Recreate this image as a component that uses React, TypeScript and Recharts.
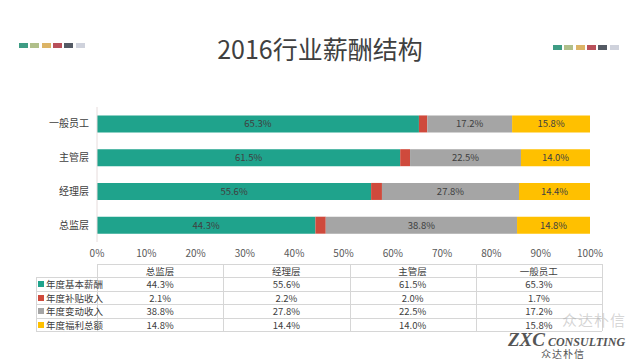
import React from 'react';
import { BarChart, Bar, XAxis, YAxis, LabelList } from 'recharts';

const categories = ['总监层', '经理层', '主管层', '一般员工'];
const seriesNames = ['年度基本薪酬', '年度补贴收入', '年度变动收入', '年度福利总额'];
const basePay = [44.3, 55.6, 61.5, 65.3];
const allowance = [2.1, 2.2, 2.0, 1.7];
const variablePay = [38.8, 27.8, 22.5, 17.2];
const benefits = [14.8, 14.4, 14.0, 15.8];
const xTicks = [0, 10, 20, 30, 40, 50, 60, 70, 80, 90, 100];
const colors = ['#1fa38c', '#cf4a3c', '#a5a5a5', '#ffc000'];
const decoColors = ['#3e9c84', '#b0bf8a', '#dcb466', '#b9505a', '#545a64', '#cfd2dc'];

const seriesValues = [basePay, allowance, variablePay, benefits];
const keys = ['s0', 's1', 's2', 's3'];

const data = categories.map((name, i) => {
  const row: any = { name };
  keys.forEach((k, j) => (row[k] = seriesValues[j][i]));
  return row;
});

const fmt = (v: any) => `${Number(v).toFixed(1)}%`;
const font = '"Noto Sans CJK SC", "Noto Sans", sans-serif';

const tableLeft = 97;
const colW = 126.25;
const headerTop = 264;
const rowH = 13.4;
const lineColor = '#d6d6d6';

function Deco({ left, top }: { left: number; top: number }) {
  return (
    <>
      {decoColors.map((c, i) => (
        <div
          key={i}
          style={{ position: 'absolute', left: left + i * 11.3, top, width: 9, height: 5, background: c }}
        />
      ))}
    </>
  );
}

const cellText = { fontSize: 9.5, lineHeight: '11px', color: '#404040' } as const;

export default function App() {
  return (
    <div style={{ position: 'absolute', left: 0, top: 0, width: 640, height: 360, background: '#fff', fontFamily: font, overflow: 'hidden' }}>
      <Deco left={19} top={43} />
      <Deco left={553} top={45} />
      <div style={{ position: 'absolute', left: 0, width: 640, top: 32, textAlign: 'center', fontSize: 25, color: '#404040', fontWeight: 400, lineHeight: '32px' }}>
        2016行业薪酬结构
      </div>
      <div style={{ position: 'absolute', left: 0, top: 0 }}>
        <BarChart
          width={640}
          height={360}
          data={data}
          layout="vertical"
          margin={{ top: 107, right: 50, bottom: 88, left: 29 }}
          barCategoryGap="25%"
        >
          <XAxis
            type="number"
            domain={[0, 100]}
            ticks={xTicks}
            tickFormatter={(v) => `${v}%`}
            axisLine={false}
            tickLine={false}
            interval={0}
            tick={{ fontSize: 10, fill: '#595959', fontFamily: font }}
            height={30}
          />
          <YAxis
            type="category"
            dataKey="name"
            reversed
            width={68}
            axisLine={{ stroke: '#e6dcdc' }}
            tickLine={false}
            tick={{ fontSize: 10, fill: '#404040', fontFamily: font }}
          />
          {keys.map((k, j) => (
            <Bar key={k} dataKey={k} stackId="a" fill={colors[j]} isAnimationActive={false} name={seriesNames[j]}>
              {j !== 1 && (
                <LabelList dataKey={k} position="center" formatter={fmt} style={{ fontSize: 9.5, fill: '#404040', fontFamily: font }} />
              )}
            </Bar>
          ))}
        </BarChart>
      </div>
      {/* data table */}
      <div style={{ position: 'absolute', left: tableLeft, top: headerTop, width: colW * 4, height: 1, background: lineColor }} />
      {[0, 1, 2, 3, 4].map((i) => (
        <div key={'v' + i} style={{ position: 'absolute', left: tableLeft + i * colW, top: headerTop, width: 1, height: rowH * 5, background: lineColor }} />
      ))}
      {[1, 2, 3, 4, 5].map((r) => (
        <div key={'h' + r} style={{ position: 'absolute', left: 36, top: headerTop + r * rowH, width: tableLeft - 36 + colW * 4, height: 1, background: lineColor }} />
      ))}
      <div style={{ position: 'absolute', left: 36, top: headerTop + rowH, width: 1, height: rowH * 4, background: lineColor }} />
      {categories.map((c, i) => (
        <div key={'c' + i} style={{ ...cellText, position: 'absolute', left: tableLeft + i * colW, width: colW, top: headerTop + 2, textAlign: 'center' }}>
          {c}
        </div>
      ))}
      {seriesNames.map((s, j) => (
        <React.Fragment key={'r' + j}>
          <div style={{ position: 'absolute', left: 38, top: headerTop + (j + 1) * rowH + 4, width: 6, height: 6, background: colors[j] }} />
          <div style={{ ...cellText, position: 'absolute', left: 46, top: headerTop + (j + 1) * rowH + 2, whiteSpace: 'nowrap' }}>
            {s}
          </div>
          {seriesValues[j].map((v, i) => (
            <div key={i} style={{ ...cellText, position: 'absolute', left: tableLeft + i * colW, width: colW, top: headerTop + (j + 1) * rowH + 2, textAlign: 'center' }}>
              {fmt(v)}
            </div>
          ))}
        </React.Fragment>
      ))}
      {/* watermark */}
      <div style={{ position: 'absolute', left: 562, top: 312, fontSize: 15, lineHeight: '16px', color: 'rgba(150,150,150,0.4)', letterSpacing: 1 }}>众达朴信</div>
      <div style={{ position: 'absolute', left: 508, top: 332, lineHeight: '15px', fontFamily: '"Liberation Serif", serif', fontStyle: 'italic', fontWeight: 700, color: '#555', whiteSpace: 'nowrap' }}>
        <span style={{ fontSize: 19 }}>ZXC</span>
        <span style={{ fontSize: 12 }}> CONSULTING</span>
      </div>
      <div style={{ position: 'absolute', left: 541, top: 348, fontSize: 10, lineHeight: '11px', color: '#555', letterSpacing: 1 }}>众达朴信</div>
    </div>
  );
}
